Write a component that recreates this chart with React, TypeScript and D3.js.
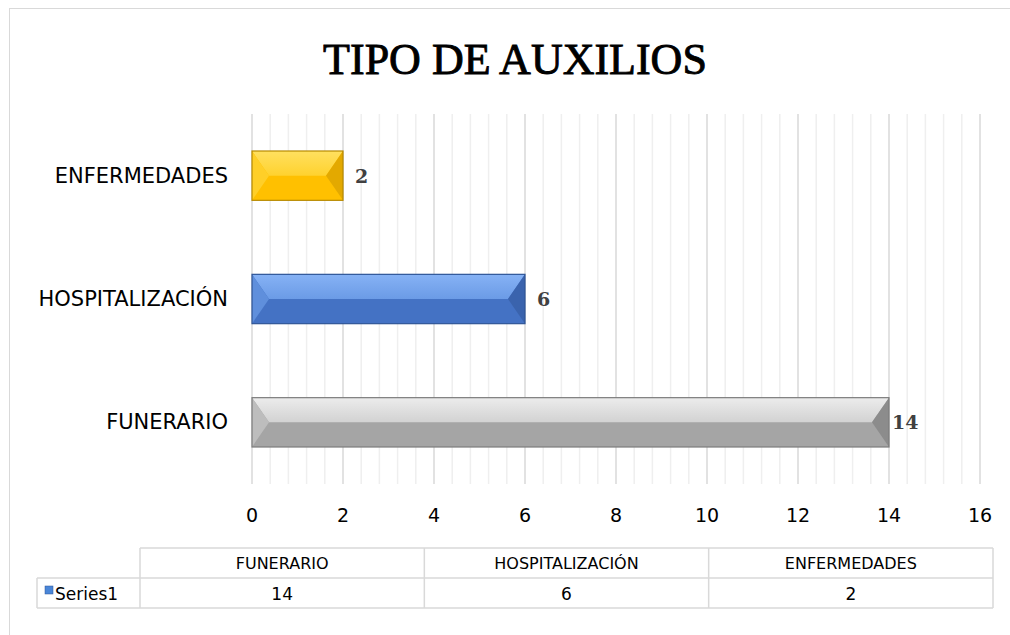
import React from "react";
import * as d3 from "d3";

// chart data
const categories = ["FUNERARIO", "HOSPITALIZACIÓN", "ENFERMEDADES"];
const values = [14, 6, 2];
const seriesName = "Series1";
const xTicks = [0, 2, 4, 6, 8, 10, 12, 14, 16];
const title = "TIPO DE AUXILIOS";

// bevel colours per category: top face, bottom face, left, right, edge
const palettes = [
  { top1: "#ececec", top2: "#d2d2d2", bottom: "#a5a5a5", left: "#bdbdbd", right: "#8c8c8c", edge: "#7c7c7c" },
  { top1: "#86b2f5", top2: "#6b9be6", bottom: "#4472c4", left: "#5f8fdc", right: "#3a63ad", edge: "#2f5597" },
  { top1: "#ffe060", top2: "#ffd22e", bottom: "#ffc000", left: "#ffcf28", right: "#e3a900", edge: "#b88a00" },
];

const W = 1010;
const H = 635;
const axisFont = "'DejaVu Sans', 'Noto Sans', sans-serif";

export default function App() {
  const x = d3.scaleLinear().domain([0, 16]).range([252, 980]);
  // top-to-bottom order is reversed from the data order
  const y = d3
    .scaleBand<string>()
    .domain([...categories].reverse())
    .range([114, 484])
    .paddingInner(0.6)
    .paddingOuter(0.3);

  const minorTicks = d3.range(0, 16.001, 0.4).filter((t) => Math.abs(t / 2 - Math.round(t / 2)) > 1e-6);

  // data table columns
  const col = d3.scaleBand<string>().domain(categories).range([140, 993]);
  const tableTop = 548;
  const rowH = 30;

  const bevel = 17;

  return (
    <svg
      width={W}
      height={H}
      style={{ position: "absolute", left: 0, top: 0, background: "#fff" }}
    >
      <defs>
        {palettes.map((p, i) => (
          <linearGradient key={i} id={`top${i}`} x1="0" y1="0" x2="0" y2="1">
            <stop offset="0%" stopColor={p.top1} />
            <stop offset="100%" stopColor={p.top2} />
          </linearGradient>
        ))}
      </defs>

      {/* outer frame */}
      <rect x={9.5} y={8.5} width={W} height={H} fill="none" stroke="#d9d9d9" strokeWidth={1} />

      <text
        x={515}
        y={74}
        textAnchor="middle"
        fontFamily="'Liberation Serif', 'DejaVu Serif', serif"
        fontSize={44}
        stroke="#000"
        strokeWidth={0.9}
        fill="#000"
      >
        {title}
      </text>

      {/* grid */}
      {minorTicks.map((t) => (
        <line key={"m" + t} x1={x(t)} x2={x(t)} y1={114} y2={484} stroke="#efefef" strokeWidth={1.5} />
      ))}
      {xTicks.map((t) => (
        <line key={"g" + t} x1={x(t)} x2={x(t)} y1={114} y2={484} stroke="#d9d9d9" strokeWidth={1.5} />
      ))}

      {/* bars */}
      {categories.map((c, i) => {
        const p = palettes[i];
        const x0 = x(0);
        const x1 = x(values[i]);
        const y0 = y(c)!;
        const h = y.bandwidth();
        const ym = y0 + h / 2;
        return (
          <g key={c}>
            <rect x={x0} y={y0} width={x1 - x0} height={h} fill={p.bottom} />
            <polygon
              points={`${x0},${y0} ${x1},${y0} ${x1 - bevel},${ym} ${x0 + bevel},${ym}`}
              fill={`url(#top${i})`}
            />
            <polygon points={`${x0},${y0} ${x0 + bevel},${ym} ${x0},${y0 + h}`} fill={p.left} />
            <polygon points={`${x1},${y0} ${x1 - bevel},${ym} ${x1},${y0 + h}`} fill={p.right} />
            <rect x={x0} y={y0} width={x1 - x0} height={h} fill="none" stroke={p.edge} strokeWidth={1.2} />
            <text
              x={x1 + (values[i] >= 10 ? 3 : 12)}
              y={ym + 7}
              fontFamily="'DejaVu Serif', 'Liberation Serif', serif"
              fontWeight="bold"
              fontSize={19}
              fill="#404040"
            >
              {values[i]}
            </text>
            <text
              x={228}
              y={ym + 7}
              textAnchor="end"
              fontFamily={axisFont}
              fontSize={21}
              fill="#000"
            >
              {c}
            </text>
          </g>
        );
      })}

      {/* x tick labels */}
      {xTicks.map((t) => (
        <text key={"t" + t} x={x(t)} y={522} textAnchor="middle" fontFamily={axisFont} fontSize={19} fill="#000">
          {t}
        </text>
      ))}

      {/* data table */}
      <g stroke="#d9d9d9" strokeWidth={1.5} fill="none">
        <line x1={140} x2={993} y1={tableTop} y2={tableTop} />
        <line x1={37} x2={993} y1={tableTop + rowH} y2={tableTop + rowH} />
        <line x1={37} x2={993} y1={tableTop + 2 * rowH} y2={tableTop + 2 * rowH} />
        <line x1={37} x2={37} y1={tableTop + rowH} y2={tableTop + 2 * rowH} />
        {categories.map((c) => (
          <line key={c} x1={col(c)} x2={col(c)} y1={tableTop} y2={tableTop + 2 * rowH} />
        ))}
        <line x1={993} x2={993} y1={tableTop} y2={tableTop + 2 * rowH} />
      </g>
      {categories.map((c, i) => (
        <g key={"tb" + c}>
          <text
            x={col(c)! + col.bandwidth() / 2}
            y={tableTop + 21}
            textAnchor="middle"
            fontFamily={axisFont}
            fontSize={16}
            fill="#000"
          >
            {c}
          </text>
          <text
            x={col(c)! + col.bandwidth() / 2}
            y={tableTop + rowH + 22}
            textAnchor="middle"
            fontFamily={axisFont}
            fontSize={17}
            fill="#000"
          >
            {values[i]}
          </text>
        </g>
      ))}
      <rect x={45} y={586} width={8} height={8} fill="#4a86d8" stroke="#2f5597" strokeWidth={0.5} />
      <text x={55} y={tableTop + rowH + 22} fontFamily={axisFont} fontSize={17} fill="#000">
        {seriesName}
      </text>
    </svg>
  );
}
